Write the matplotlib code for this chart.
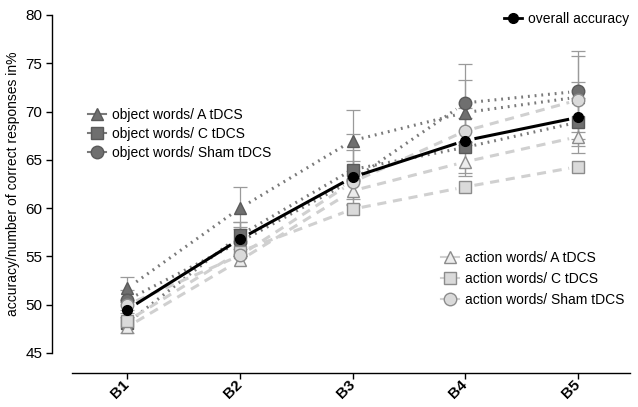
import numpy as np
import matplotlib
matplotlib.use("Agg")
import matplotlib.pyplot as plt
from matplotlib.lines import Line2D

plt.rcParams['font.family'] = ['Liberation Sans', 'DejaVu Sans']

blocks = ["B1", "B2", "B3", "B4", "B5"]
obj_A = [51.7, 60.0, 67.0, 69.9, 71.5]
obj_C = [48.1, 57.2, 64.0, 66.3, 68.9]
obj_Sham = [50.5, 56.5, 62.9, 70.9, 72.1]
act_A = [47.7, 54.6, 61.8, 64.8, 67.4]
act_C = [48.3, 55.5, 59.9, 62.2, 64.3]
act_Sham = [50.0, 55.1, 62.7, 68.0, 71.2]
overall = [49.5, 56.8, 63.2, 67.0, 69.4]

err_obj_A = [1.2, 2.2, 3.2, 3.4, 4.3]
err_obj_C = [1.0, 1.4, 3.7, 3.0, 2.5]
err_obj_Sham = [1.0, 1.5, 2.0, 4.0, 4.2]
err_overall = [0.8, 1.8, 2.8, 3.4, 3.7]

x = np.arange(1, len(blocks) + 1)

fig = plt.figure(figsize=(6.38, 4.07), dpi=100)
ax = fig.add_axes([72/638, 1-353/407, (630-72)/638, (353-15)/407])

for s in ['top', 'right']:
    ax.spines[s].set_visible(False)
ax.spines['left'].set_position(('outward', 14.4))
ax.spines['bottom'].set_position(('outward', 14.4))
ax.spines['left'].set_linewidth(1.0)
ax.spines['bottom'].set_linewidth(1.0)

dark_fill = '#6f6f6f'
dark_edge = '#5a5a5a'
light_fill = '#dadada'
light_edge = '#8c8c8c'

series = [
    (obj_A, '^', dark_fill, dark_edge, (0, (0.6, 1.6)), '#7a7a7a', 'object words/ A tDCS'),
    (obj_C, 's', dark_fill, dark_edge, (0, (0.6, 1.6)), '#7a7a7a', 'object words/ C tDCS'),
    (obj_Sham, 'o', dark_fill, dark_edge, (0, (0.6, 1.6)), '#7a7a7a', 'object words/ Sham tDCS'),
    (act_A, '^', '#ececec', light_edge, (0, (3, 2.2)), '#d0d0d0', 'action words/ A tDCS'),
    (act_C, 's', light_fill, light_edge, (0, (3, 2.2)), '#d0d0d0', 'action words/ C tDCS'),
    (act_Sham, 'o', light_fill, light_edge, (0, (3, 2.2)), '#d0d0d0', 'action words/ Sham tDCS'),
]

gap = 0.08

def draw_segments(vals, **kw):
    vals = np.asarray(vals, dtype=float)
    for i in range(len(x) - 1):
        xs = np.array([x[i] + gap, x[i + 1] - gap])
        ys = np.interp(xs, x, vals)
        ax.plot(xs, ys, solid_capstyle='butt', dash_capstyle='butt', **kw)

for vals, m, fc, ec, ls, lc, lab in series:
    draw_segments(vals, color=lc, linestyle=ls, linewidth=2.2, zorder=2)
draw_segments(overall, color='black', linestyle='-', linewidth=2.2, zorder=3)

for vals, err in [(obj_A, err_obj_A), (obj_C, err_obj_C), (obj_Sham, err_obj_Sham), (overall, err_overall)]:
    ax.errorbar(x, vals, yerr=err, fmt='none', ecolor='#9a9a9a', elinewidth=0.9,
                capsize=5, capthick=0.9, zorder=4)

handles_obj, handles_act = [], []
for vals, m, fc, ec, ls, lc, lab in series:
    ax.plot(x, vals, linestyle='none', marker=m, markersize=9, markerfacecolor=fc,
            markeredgecolor=ec, markeredgewidth=1.0, zorder=5)
    h = Line2D([], [], color=lc, linestyle='-', linewidth=1.5, marker=m, markersize=9,
               markerfacecolor=fc, markeredgecolor=ec, label=lab)
    (handles_obj if lab.startswith('object') else handles_act).append(h)

ax.plot(x, overall, linestyle='none', marker='o', markersize=7, markerfacecolor='black',
        markeredgecolor='black', zorder=6)
h_over = Line2D([], [], color='black', linewidth=2, marker='o', markersize=7,
                markerfacecolor='black', markeredgecolor='black', label='overall accuracy')

ax.set_xlim(0.51, 5.46)
ax.set_ylim(45, 80)
ax.set_yticks(np.arange(45, 81, 5))
ax.set_xticks(x)
ax.set_xticklabels(blocks, rotation=45, fontweight='bold', fontsize=11,
                   ha='right', va='center', rotation_mode='anchor')
ax.tick_params(axis='y', labelsize=11, length=4, width=1, pad=3)
ax.tick_params(axis='x', length=4, width=1, pad=3)
ax.set_ylabel('accuracy/number of correct responses in%', fontsize=10, labelpad=4)

leg_kw = dict(frameon=False, fontsize=10, handlelength=1.3, handletextpad=0.4,
              borderpad=0, borderaxespad=0, numpoints=1)
l1 = ax.legend(handles=[h_over], loc='upper right',
               bbox_to_anchor=(629/638, 1-12/407), bbox_transform=fig.transFigure, **leg_kw)
ax.add_artist(l1)
l2 = ax.legend(handles=handles_obj, loc='upper left', labelspacing=0.35,
               bbox_to_anchor=(88/638, 1-108/407), bbox_transform=fig.transFigure, **leg_kw)
ax.add_artist(l2)
l3 = ax.legend(handles=handles_act, loc='upper left', labelspacing=0.5,
               bbox_to_anchor=(441/638, 1-251/407), bbox_transform=fig.transFigure, **leg_kw)

fig.savefig('out.png', dpi=100)
